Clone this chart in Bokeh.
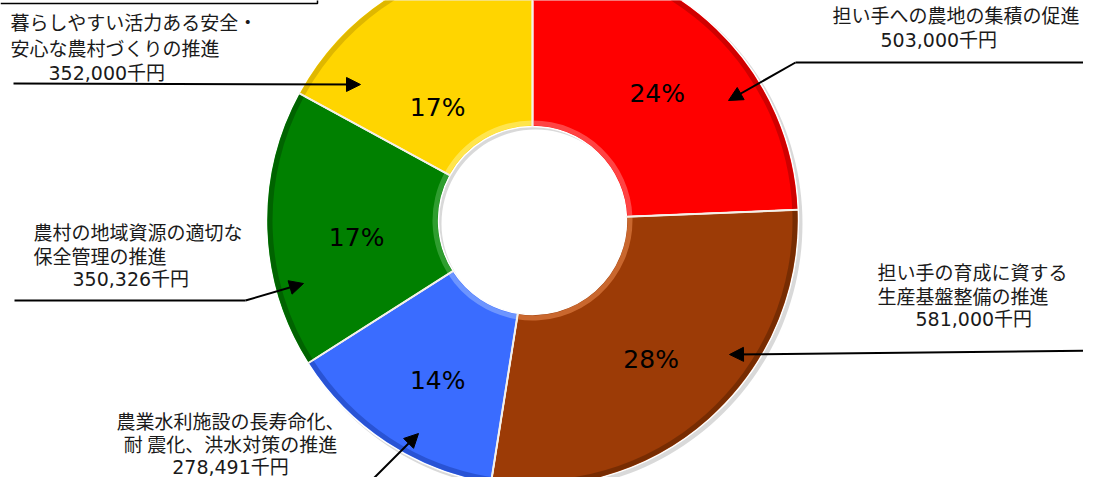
import math
from bokeh.plotting import figure
from bokeh.models import Range1d, ColumnDataSource, Arrow, NormalHead
from bokeh.core.properties import value
from bokeh.embed import file_html
from bokeh.resources import INLINE

# ---------------- data ----------------
categories = [
    "担い手への農地の集積の促進",
    "担い手の育成に資する生産基盤整備の推進",
    "農業水利施設の長寿命化、耐震化、洪水対策の推進",
    "農村の地域資源の適切な保全管理の推進",
    "暮らしやすい活力ある安全・安心な農村づくりの推進",
]
values = [503000, 581000, 278491, 350326, 352000]
pct_labels = ["24%", "28%", "14%", "17%", "17%"]
label_lines = [
    ["担い手への農地の集積の促進"],
    ["担い手の育成に資する", "生産基盤整備の推進"],
    ["農業水利施設の長寿命化、", "耐 震化、洪水対策の推進"],
    ["農村の地域資源の適切な", "保全管理の推進"],
    ["暮らしやすい活力ある安全・", "安心な農村づくりの推進"],
]
unit = "千円"

# ---------------- styles / layout ----------------
colors = ["#FF0000", "#9C3B06", "#3A6CFF", "#008000", "#FFD500"]
dark = ["#A80000", "#5A2000", "#1C3FB0", "#004A00", "#C59E00"]
light = ["#FF7070", "#E8864A", "#8FB0FF", "#4FB04F", "#FFF080"]
FONT = "Noto Sans CJK JP"
NUM_FONT = "DejaVu Sans, Noto Sans CJK JP"
W, H = 1083, 477
CX, CY_REF = 532, 220
R_OUT, R_IN = 266, 94
LABEL_R = 180
pct_nudge = [(0, 3), (-1, 5), (4, 10), (4, 11), (-3, 42)]
# label block anchors: (x of text lines, first line y, x of amount line, align, line height)
block_pos = [
    (1079, 14, 880, "right", 25),
    (877, 271, 915, "left", 23.5),
    (230, 420, 230, "center", 23),
    (33, 231, 72, "left", 23.5),
    (10, 21, 48, "left", 25.5),
]
leaders = [
    [(1099, 62), (795, 62), (728, 100)],
    [(1099, 350), (729, 354)],
    [(358, 493), (418, 433)],
    [(14, 300), (245, 300), (303, 283)],
    [(13, 83), (360, 84)],
]


def fy(y):
    return -y


CY = fy(CY_REF)

p = figure(width=W, height=H, x_range=Range1d(0, W), y_range=Range1d(fy(H), fy(0)),
           output_backend="svg", toolbar_location=None, min_border=0,
           x_axis_type=None, y_axis_type=None)
p.grid.visible = False
p.outline_line_color = None
p.background_fill_color = "white"

total = sum(values)
starts, ends, mids = [], [], []
cum = 0.0
for v in values:
    a0 = math.pi / 2 - 2 * math.pi * cum / total
    cum += v
    a1 = math.pi / 2 - 2 * math.pi * cum / total
    starts.append(a0)
    ends.append(a1)
    mids.append((a0 + a1) / 2)

src = ColumnDataSource(dict(x=[CX] * len(values), y=[CY] * len(values), start=starts, end=ends,
                            color=colors, dark=dark, light=light))

# soft shadow
p.annular_wedge(x=CX + 3, y=CY - 3, inner_radius=R_IN, outer_radius=R_OUT + 1,
                start_angle=math.pi / 2, end_angle=math.pi / 2 - 2 * math.pi + 1e-6, direction="clock",
                fill_color="#000000", fill_alpha=0.15, line_color=None)
# base wedges
p.annular_wedge(x="x", y="y", inner_radius=R_IN, outer_radius=R_OUT, start_angle="start",
                end_angle="end", direction="clock", source=src, fill_color="color",
                line_color="white", line_width=1.5)
# bevel: dark outer rim, light inner rim
p.annular_wedge(x="x", y="y", inner_radius=R_OUT - 6, outer_radius=R_OUT - 1, start_angle="start",
                end_angle="end", direction="clock", source=src, fill_color="dark",
                fill_alpha=0.55, line_color=None)
p.annular_wedge(x="x", y="y", inner_radius=R_IN + 1, outer_radius=R_IN + 6, start_angle="start",
                end_angle="end", direction="clock", source=src, fill_color="light",
                fill_alpha=0.6, line_color=None)
# separators
p.segment(x0=[CX + R_IN * math.cos(a) for a in starts], y0=[CY + R_IN * math.sin(a) for a in starts],
          x1=[CX + R_OUT * math.cos(a) for a in starts], y1=[CY + R_OUT * math.sin(a) for a in starts],
          line_color="#F4F0E8", line_width=2)

# percent labels
px, py = [], []
for m, (dx, dy) in zip(mids, pct_nudge):
    px.append(CX + LABEL_R * math.cos(m) + dx)
    py.append(CY + LABEL_R * math.sin(m) - dy)
p.text(x=px, y=py, text=pct_labels, text_font=value(NUM_FONT), text_font_size=value("25px"),
       text_align="center", text_baseline="middle", text_color="black")

# category labels
for i, lines in enumerate(label_lines):
    lx, ly, nx, align, lh = block_pos[i]
    ys = [fy(ly + k * lh) for k in range(len(lines) + 1)]
    num_align = "center" if align == "center" else "left"
    p.text(x=[lx] * len(lines), y=ys[:-1], text=lines, text_font=value(FONT),
           text_font_size=value("19px"), text_align=align, text_baseline="middle",
           text_color="#1a1a1a")
    p.text(x=[nx], y=[ys[-1]], text=[f"{values[i]:,}{unit}"], text_font=value(NUM_FONT),
           text_font_size=value("19px"), text_align=num_align, text_baseline="middle",
           text_color="#1a1a1a")

# leader lines with arrows
for pts in leaders:
    if len(pts) > 2:
        p.line(x=[q[0] for q in pts[:-1]], y=[fy(q[1]) for q in pts[:-1]], line_color="black", line_width=2)
    (x0, y0), (x1, y1) = pts[-2], pts[-1]
    p.add_layout(Arrow(x_start=x0, y_start=fy(y0), x_end=x1, y_end=fy(y1), line_width=2,
                       line_color="black",
                       end=NormalHead(size=14, fill_color="black", line_color="black")))

# edge of the box above the chart
p.line(x=[0, 317, 317], y=[fy(3), fy(3), fy(-5)], line_color="black", line_width=1.5)

open("out.html", "w").write(file_html(p, INLINE))
